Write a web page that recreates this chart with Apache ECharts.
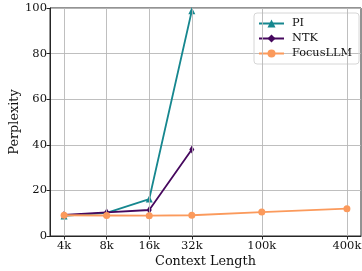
<!DOCTYPE html>
<html><head><meta charset="utf-8">
<script src="https://cdn.jsdelivr.net/npm/echarts@6/dist/echarts.min.js"></script>
<style>html,body{margin:0;padding:0;background:#fff}#c{width:362px;height:271px}</style>
</head><body><div id="c"></div>
<script>
const contextK = [4, 8, 16, 32, 100, 400];
const tickLabels = ['4k', '8k', '16k', '32k', '100k', '400k'];
const piValues = [8.8, 10.1, 16.2, 98.8];
const ntkValues = [9.3, 10.4, 11.4, 37.9];
const focusValues = [9.1, 9.0, 8.9, 9.1, 10.5, 12.0];
const yTicks = [0, 20, 40, 60, 80, 100];

const pair = (vals) => vals.map((v, i) => [contextK[i], v]);
const font = 'DejaVu Serif';
const gridColor = '#b8b8b8';
const chart = echarts.init(document.getElementById('c'), null, {renderer: 'canvas'});
chart.setOption({
  animation: false,
  grid: {left: 50, right: 1, top: 8, bottom: 35, show: true, borderColor: '#262626', borderWidth: 1,
    containLabel: false, outerBoundsMode: 'none'},
  legend: {
    right: 3, top: 13, orient: 'vertical', itemWidth: 25, itemHeight: 10, itemGap: 4,
    borderColor: '#d6d6d6', borderWidth: 1, borderRadius: 3, padding: [5, 7, 5, 4],
    textStyle: {fontFamily: font, fontSize: 11.3, color: '#111', padding: [0, 0, 0, 3]},
    data: ['PI', 'NTK', 'FocusLLM']
  },
  xAxis: {
    type: 'log', logBase: 2, min: 3.18, max: 503,
    name: 'Context Length', nameLocation: 'middle', nameGap: 19, nameMoveOverlap: false,
    nameTextStyle: {fontFamily: font, fontSize: 12.8, color: '#111'},
    axisLine: {lineStyle: {color: '#262626', width: 1}},
    axisTick: {show: true, length: 3.5, customValues: contextK, lineStyle: {color: '#262626'}},
    axisLabel: {customValues: contextK, fontFamily: font, fontSize: 11.5, color: '#111', margin: 4,
      formatter: (v) => tickLabels[contextK.indexOf(Math.round(v))] || ''},
    splitLine: {show: false},
    minorTick: {show: false}
  },
  yAxis: {
    type: 'value', min: 0, max: 100, interval: 20,
    name: 'Perplexity', nameLocation: 'middle', nameGap: 29, nameMoveOverlap: false,
    nameTextStyle: {fontFamily: font, fontSize: 12.8, color: '#111'},
    axisLine: {show: true, lineStyle: {color: '#262626', width: 1}},
    axisTick: {show: true, length: 3.5, lineStyle: {color: '#262626'}},
    axisLabel: {fontFamily: font, fontSize: 11.5, color: '#111', margin: 3},
    splitLine: {show: true, lineStyle: {color: gridColor, width: 0.9}}
  },
  series: [
    {name: 'grid-x', type: 'line', data: [], silent: true, z: 1,
      markLine: {silent: true, symbol: 'none', label: {show: false}, animation: false,
        lineStyle: {color: gridColor, width: 0.9, type: 'solid'},
        data: contextK.map((v) => ({xAxis: v}))}},
    {name: 'PI', type: 'line', data: pair(piValues), color: '#16878f', symbol: 'triangle', symbolSize: 7,
      lineStyle: {width: 1.8}, z: 3},
    {name: 'NTK', type: 'line', data: pair(ntkValues), color: '#46085e', symbol: 'diamond', symbolSize: [5, 8],
      lineStyle: {width: 1.8}, z: 4},
    {name: 'FocusLLM', type: 'line', data: pair(focusValues), color: '#fb9a5c', symbol: 'circle', symbolSize: 7,
      lineStyle: {width: 1.8}, z: 5}
  ]
});
</script></body></html>
